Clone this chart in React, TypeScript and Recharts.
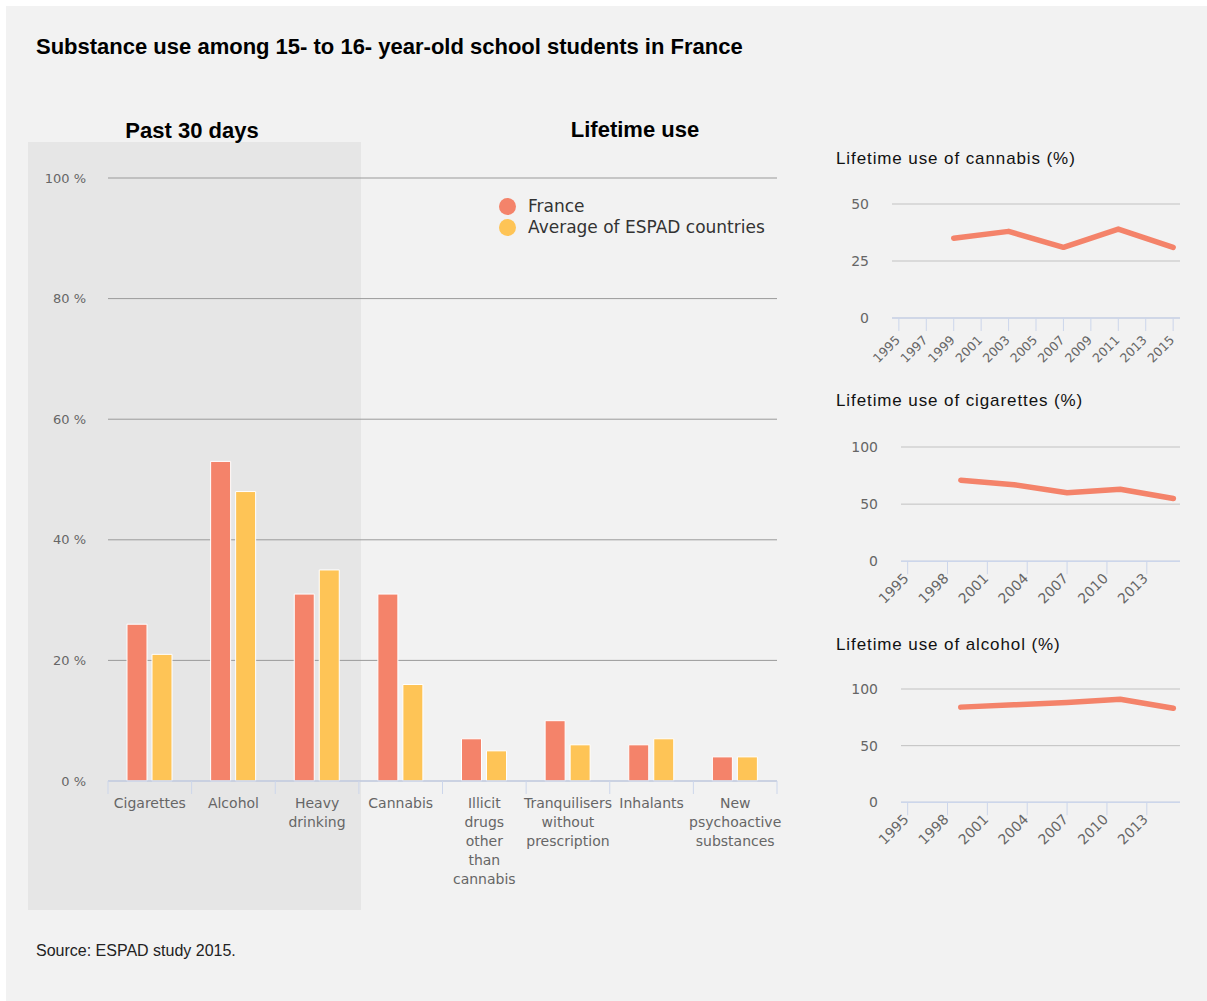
import React from "react";
import {
  Bar,
  BarChart,
  CartesianGrid,
  Legend,
  Line,
  LineChart,
  XAxis,
  YAxis,
} from "recharts";

const CATEGORIES = [
  "Cigarettes",
  "Alcohol",
  "Heavy drinking",
  "Cannabis",
  "Illicit drugs other than cannabis",
  "Tranquilisers without prescription",
  "Inhalants",
  "New psychoactive substances",
];
const FRANCE = [26, 53, 31, 31, 7, 10, 6, 4];
const ESPAD = [21, 48, 35, 16, 5, 6, 7, 4];
const PCT_TICKS = [0, 20, 40, 60, 80, 100];

const SURVEY_YEARS = [1999, 2003, 2007, 2011, 2015];
const CANNABIS = [35, 38, 31, 39, 31];
const CIGARETTES = [71, 67, 60, 63, 55];
const ALCOHOL = [84, 86, 88, 91, 83];
const CANNABIS_YEAR_TICKS = [1995, 1997, 1999, 2001, 2003, 2005, 2007, 2009, 2011, 2013, 2015];
const YEAR_TICKS = [1995, 1998, 2001, 2004, 2007, 2010, 2013];
const CANNABIS_Y_TICKS = [0, 25, 50];
const USE_Y_TICKS = [0, 50, 100];

const FRANCE_COLOR = "#f4836a";
const ESPAD_COLOR = "#fec456";
const AXIS_BLUE = "#ccd6eb";
const LABEL_FONT = "'DejaVu Sans', Verdana, sans-serif";
const HEAD_FONT = "'Liberation Sans', Arial, Helvetica, sans-serif";

// main chart geometry
const MAIN_W = 800;
const MAIN_H = 900;
const MAIN_LEFT = 28;
const MAIN_Y_W = 80;
const MAIN_RIGHT = 23;
const PLOT_TOP = 178;
const PLOT_BOTTOM = 781;
const BAND = (MAIN_W - MAIN_LEFT - MAIN_Y_W - MAIN_RIGHT) / CATEGORIES.length;

const barData = CATEGORIES.map((name, i) => ({ name, france: FRANCE[i], espad: ESPAD[i] }));

function wrapLabel(label: string, maxChars = 9) {
  const lines: string[] = [];
  let cur = "";
  for (const w of label.split(" ")) {
    if (cur && (cur + " " + w).length > maxChars) {
      lines.push(cur);
      cur = w;
    } else {
      cur = cur ? cur + " " + w : w;
    }
  }
  if (cur) lines.push(cur);
  return lines;
}

const CategoryTick = (props: any) => {
  const { x, payload, index } = props;
  const lines = wrapLabel(String(payload.value));
  const left = x - BAND / 2;
  const right = x + BAND / 2;
  return (
    <g>
      <line x1={left} x2={left} y1={PLOT_BOTTOM} y2={PLOT_BOTTOM + 13} stroke={AXIS_BLUE} />
      {index === CATEGORIES.length - 1 && (
        <line x1={right} x2={right} y1={PLOT_BOTTOM} y2={PLOT_BOTTOM + 13} stroke={AXIS_BLUE} />
      )}
      <text x={x} y={PLOT_BOTTOM + 27} textAnchor="middle" fill="#666" fontSize={14} fontFamily={LABEL_FONT}>
        {lines.map((line, i) => (
          <tspan key={i} x={x} dy={i === 0 ? 0 : 19}>
            {line}
          </tspan>
        ))}
      </text>
    </g>
  );
};

const YearTick = (props: any) => {
  const { x, y, payload, labelSize, labelDrop } = props;
  return (
    <text
      x={0}
      y={0}
      transform={`translate(${x + 2},${y + labelDrop}) rotate(-45)`}
      textAnchor="end"
      fill="#666"
      fontSize={labelSize}
      fontFamily={LABEL_FONT}
    >
      {payload.value}
    </text>
  );
};

const LegendContent = () => (
  <div style={{ fontFamily: LABEL_FONT, fontSize: 17, color: "#333" }}>
    {[
      { label: "France", color: FRANCE_COLOR },
      { label: "Average of ESPAD countries", color: ESPAD_COLOR },
    ].map((item) => (
      <div key={item.label} style={{ display: "flex", alignItems: "center", height: 21, whiteSpace: "nowrap" }}>
        <span
          style={{
            width: 17,
            height: 17,
            borderRadius: "50%",
            background: item.color,
            marginRight: 12,
            flex: "none",
          }}
        />
        {item.label}
      </div>
    ))}
  </div>
);

function TrendChart({
  title,
  titleTop,
  plotTop,
  plotHeight,
  yAxisWidth,
  values,
  yTicks,
  xTicks,
  labelSize,
  labelDrop,
}: {
  title: string;
  titleTop: number;
  plotTop: number;
  plotHeight: number;
  yAxisWidth: number;
  values: number[];
  yTicks: number[];
  xTicks: number[];
  labelSize: number;
  labelDrop: number;
}) {
  const data = SURVEY_YEARS.map((year, i) => ({ year, value: values[i] }));
  const marginTop = 24;
  const xAxisHeight = 60;
  return (
    <>
      <div
        style={{
          position: "absolute",
          left: 836,
          top: titleTop,
          font: `17px ${HEAD_FONT}`,
          lineHeight: "17px",
          letterSpacing: 0.9,
          color: "#111",
          whiteSpace: "nowrap",
        }}
      >
        {title}
      </div>
      <div style={{ position: "absolute", left: 820, top: plotTop - marginTop }}>
        <LineChart
          width={380}
          height={marginTop + plotHeight + xAxisHeight}
          data={data}
          margin={{ top: marginTop, right: 20, bottom: 0, left: 0 }}
        >
          <CartesianGrid vertical={false} stroke="#c2c2c2" />
          <XAxis
            dataKey="year"
            type="number"
            domain={[1994.5, 2015.5]}
            ticks={xTicks}
            interval={0}
            allowDataOverflow
            height={xAxisHeight}
            axisLine={{ stroke: AXIS_BLUE, strokeWidth: 1.5 }}
            tickLine={{ stroke: AXIS_BLUE }}
            tickSize={13}
            tick={<YearTick labelSize={labelSize} labelDrop={labelDrop} />}
          />
          <YAxis
            type="number"
            domain={[0, yTicks[yTicks.length - 1]]}
            ticks={yTicks}
            width={yAxisWidth}
            axisLine={false}
            tickLine={false}
            tickMargin={17}
            tick={{ fill: "#666", fontSize: 14, fontFamily: LABEL_FONT }}
          />
          <Line
            type="linear"
            dataKey="value"
            stroke={FRANCE_COLOR}
            strokeWidth={5.5}
            strokeLinecap="round"
            strokeLinejoin="round"
            dot={false}
            activeDot={false}
            isAnimationActive={false}
          />
        </LineChart>
      </div>
    </>
  );
}

export default function App() {
  return (
    <div style={{ position: "absolute", left: 0, top: 0, width: 1207, height: 1001, background: "#fff" }}>
      <div style={{ position: "absolute", left: 6, top: 6, right: 0, bottom: 0, background: "#f2f2f2" }} />
      <div style={{ position: "absolute", left: 28, top: 142, width: 333, height: 768, background: "#e6e6e6" }} />

      <div
        style={{
          position: "absolute",
          left: 36,
          top: 36,
          font: `bold 22px ${HEAD_FONT}`,
          lineHeight: "22px",
          color: "#000",
          whiteSpace: "nowrap",
        }}
      >
        Substance use among 15- to 16- year-old school students in France
      </div>
      <div
        style={{
          position: "absolute",
          left: 92,
          top: 120,
          width: 200,
          textAlign: "center",
          font: `bold 22px ${HEAD_FONT}`,
          lineHeight: "22px",
        }}
      >
        Past 30 days
      </div>
      <div
        style={{
          position: "absolute",
          left: 535,
          top: 119,
          width: 200,
          textAlign: "center",
          font: `bold 22px ${HEAD_FONT}`,
          lineHeight: "22px",
        }}
      >
        Lifetime use
      </div>

      <div style={{ position: "absolute", left: 0, top: 0 }}>
        <BarChart
          width={MAIN_W}
          height={MAIN_H}
          data={barData}
          margin={{ top: PLOT_TOP, right: MAIN_RIGHT, bottom: 9, left: MAIN_LEFT }}
          barSize={20}
          barGap={5}
        >
          <CartesianGrid vertical={false} stroke="#9a9a9a" />
          <XAxis
            dataKey="name"
            interval={0}
            height={110}
            axisLine={{ stroke: AXIS_BLUE, strokeWidth: 1.5 }}
            tickLine={false}
            tick={<CategoryTick />}
          />
          <YAxis
            type="number"
            domain={[0, 100]}
            ticks={PCT_TICKS}
            width={MAIN_Y_W}
            axisLine={false}
            tickLine={false}
            tickMargin={16}
            tickFormatter={(v) => `${v} %`}
            tick={{ fill: "#666", fontSize: 13, fontFamily: LABEL_FONT }}
          />
          <Legend
            layout="vertical"
            align="center"
            verticalAlign="middle"
            wrapperStyle={{ left: 499, top: 195.5, width: "auto" }}
            content={<LegendContent />}
          />
          <Bar dataKey="france" name="France" fill={FRANCE_COLOR} stroke="#fff" strokeWidth={1} isAnimationActive={false} />
          <Bar
            dataKey="espad"
            name="Average of ESPAD countries"
            fill={ESPAD_COLOR}
            stroke="#fff"
            strokeWidth={1}
            isAnimationActive={false}
          />
        </BarChart>
      </div>

      <TrendChart
        title="Lifetime use of cannabis (%)"
        titleTop={149.6}
        plotTop={204.3}
        plotHeight={114}
        yAxisWidth={72}
        values={CANNABIS}
        yTicks={CANNABIS_Y_TICKS}
        xTicks={CANNABIS_YEAR_TICKS}
        labelSize={12.5}
        labelDrop={8}
      />
      <TrendChart
        title="Lifetime use of cigarettes (%)"
        titleTop={392.3}
        plotTop={446.7}
        plotHeight={114.3}
        yAxisWidth={81}
        values={CIGARETTES}
        yTicks={USE_Y_TICKS}
        xTicks={YEAR_TICKS}
        labelSize={14}
        labelDrop={3}
      />
      <TrendChart
        title="Lifetime use of alcohol (%)"
        titleTop={635.6}
        plotTop={689}
        plotHeight={113.3}
        yAxisWidth={81}
        values={ALCOHOL}
        yTicks={USE_Y_TICKS}
        xTicks={YEAR_TICKS}
        labelSize={14}
        labelDrop={3}
      />

      <div
        style={{
          position: "absolute",
          left: 36,
          top: 942.5,
          font: `16px ${HEAD_FONT}`,
          lineHeight: "16px",
          color: "#222",
          whiteSpace: "nowrap",
        }}
      >
        Source: ESPAD study 2015.
      </div>
    </div>
  );
}
